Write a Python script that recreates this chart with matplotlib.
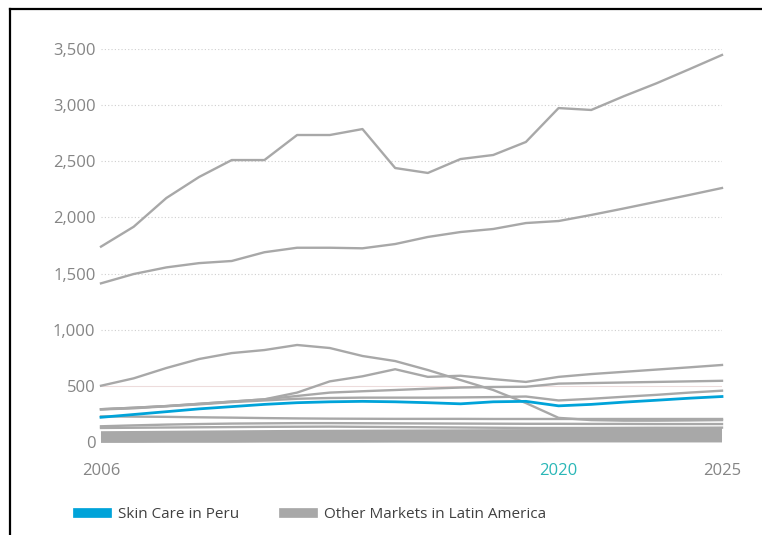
import matplotlib.pyplot as plt
from matplotlib.lines import Line2D

plt.rcParams['font.family'] = ['Open Sans', 'DejaVu Sans']

years = list(range(2006, 2026))

# Skin Care in Peru
peru = [220, 245, 270, 295, 315, 335, 350, 358, 362, 358,
        350, 340, 358, 362, 322, 335, 355, 372, 390, 405]

# other Latin American markets
others = [
    [1740, 1917, 2173, 2360, 2511, 2511, 2734, 2734, 2787, 2440,
     2396, 2520, 2556, 2672, 2974, 2957, 3080, 3195, 3320, 3447],
    [1413, 1496, 1555, 1593, 1612, 1690, 1730, 1730, 1725, 1763,
     1826, 1870, 1897, 1950, 1968, 2022, 2080, 2140, 2200, 2262],
    [501, 567, 659, 739, 792, 819, 864, 837, 766, 721,
     641, 552, 463, 347, 215, 195, 190, 190, 192, 195],
    [292, 305, 320, 340, 360, 380, 440, 540, 585, 648,
     580, 590, 560, 535, 580, 605, 625, 645, 665, 686],
    [292, 305, 320, 340, 360, 380, 410, 440, 452, 463,
     475, 485, 490, 492, 520, 525, 530, 535, 540, 545],
    [290, 300, 318, 335, 355, 370, 385, 392, 395, 395,
     395, 397, 400, 405, 370, 385, 403, 420, 440, 457],
    [228, 226, 224, 220, 217, 213, 210, 208, 207, 206,
     206, 206, 205, 205, 205, 205, 205, 205, 205, 205],
    [140, 148, 155, 160, 164, 166, 168, 168, 167, 166,
     165, 164, 163, 162, 162, 161, 161, 160, 160, 160],
    [125, 127, 129, 131, 133, 135, 136, 137, 135, 133,
     131, 129, 127, 125, 125, 125, 126, 127, 127, 128],
]

# small markets packed near zero
small = [
    [80, 82, 84, 86, 88, 90, 92, 93, 94, 95,
     96, 97, 98, 99, 100, 102, 104, 106, 108, 110],
    [65, 66, 67, 68, 69, 70, 72, 73, 74, 75,
     76, 77, 78, 79, 80, 82, 84, 86, 88, 90],
    [50, 51, 52, 53, 54, 55, 56, 57, 58, 59,
     60, 61, 62, 63, 64, 65, 66, 67, 68, 70],
    [35, 36, 37, 38, 38, 39, 40, 41, 42, 43,
     43, 44, 45, 45, 46, 46, 47, 48, 49, 50],
    [20, 21, 21, 22, 22, 23, 23, 24, 24, 25,
     25, 26, 26, 27, 27, 28, 28, 29, 29, 30],
    [8, 8, 9, 9, 9, 10, 10, 10, 10, 11,
     11, 11, 11, 11, 12, 12, 12, 12, 12, 12],
]

y_ticks = [0, 500, 1000, 1500, 2000, 2500, 3000, 3500]
x_ticks = [2006, 2020, 2025]

grey = '#a8a8a8'
blue = '#00a3d9'
teal = '#2ab7b7'
label_grey = '#858585'


def main():
	fig = plt.figure(figsize=(7.62, 5.35), dpi=100)
	ax = fig.add_axes([101 / 762, 93 / 535, 621 / 762, 393 / 535])

	for series in others:
		ax.plot(years, series, color=grey, lw=1.7, clip_on=False, zorder=2,
				solid_joinstyle='round')
	for series in small:
		ax.plot(years, series, color=grey, lw=2.6, clip_on=False, zorder=2,
				solid_capstyle='butt')
	ax.plot(years, peru, color=blue, lw=2.0, clip_on=False, zorder=3)

	ax.set_xlim(2006, 2025)
	ax.set_ylim(0, 3500)

	# dotted guides, the 500 one is a faint solid line
	for v in y_ticks[2:]:
		ax.axhline(v, color='#cfcfcf', lw=0.8, ls=(0, (1, 2)), zorder=1)
	ax.axhline(500, color='#eddcdc', lw=0.8, zorder=1)

	ax.set_yticks(y_ticks)
	ax.set_yticklabels(['{:,}'.format(v) for v in y_ticks])
	ax.set_xticks(x_ticks)
	ax.set_xticklabels([str(v) for v in x_ticks])
	ax.tick_params(axis='both', length=0, labelsize=12, colors=label_grey)
	ax.tick_params(axis='y', pad=4)
	ax.tick_params(axis='x', pad=15)
	ax.get_xticklabels()[1].set_color(teal)
	for s in ax.spines.values():
		s.set_visible(False)

	handles = [Line2D([], [], color=blue, lw=7),
			   Line2D([], [], color=grey, lw=7)]
	fig.legend(handles, ['Skin Care in Peru', 'Other Markets in Latin America'],
			   loc='center left', bbox_to_anchor=(64 / 762, 20 / 535),
			   ncol=2, frameon=False, fontsize=11, labelcolor='#404040',
			   handlelength=1.9, handletextpad=0.75, columnspacing=2.9)

	# frame on the left and top
	fig.add_artist(Line2D([10 / 762, 10 / 762], [0, 1 - 9 / 535], color='black', lw=1.6))
	fig.add_artist(Line2D([10 / 762, 1], [1 - 9 / 535, 1 - 9 / 535], color='black', lw=1.6))

	fig.savefig('out.png', dpi=100)


if __name__ == "__main__":
	main()
